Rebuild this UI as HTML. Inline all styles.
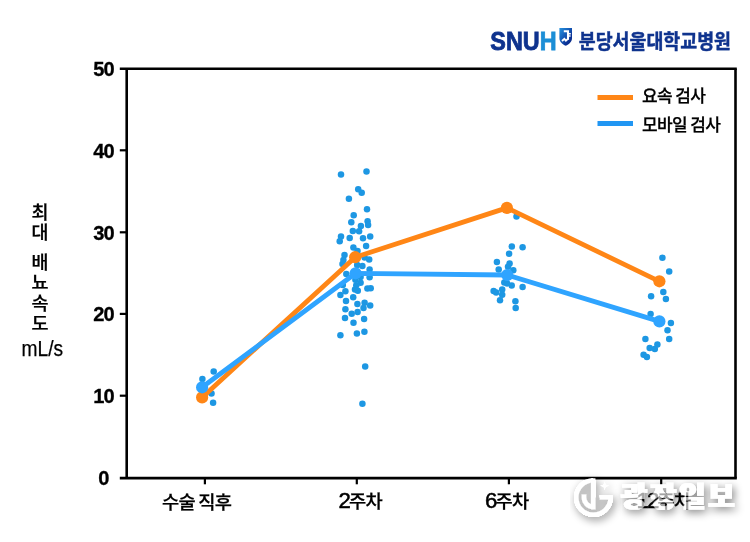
<!DOCTYPE html>
<html lang="ko">
<head>
<meta charset="utf-8">
<title>최대 배뇨속도 mL/s</title>
<style>
html,body{margin:0;padding:0;background:#fff;}
body{width:750px;height:542px;overflow:hidden;}
svg{display:block;}
</style>
</head>
<body>
<svg width="750" height="542" viewBox="0 0 750 542">
<defs>
<filter id="ws" x="-20%" y="-40%" width="140%" height="200%"><feGaussianBlur in="SourceAlpha" stdDeviation="4.2"/><feOffset dx="1.5" dy="2.5"/><feComponentTransfer result="sh"><feFuncA type="linear" slope="0.5"/></feComponentTransfer><feComponentTransfer in="SourceAlpha" result="solid"><feFuncA type="linear" slope="4"/></feComponentTransfer><feComposite in="sh" in2="solid" operator="out" result="sho"/><feMerge><feMergeNode in="sho"/><feMergeNode in="SourceGraphic"/></feMerge></filter>
<filter id="wt" x="-10%" y="-40%" width="120%" height="200%"><feMorphology in="SourceAlpha" operator="dilate" radius="1 0" result="fat"/><feGaussianBlur in="fat" stdDeviation="4"/><feOffset dx="2" dy="3"/><feComponentTransfer result="sh"><feFuncA type="linear" slope="0.52"/></feComponentTransfer><feComposite in="sh" in2="fat" operator="out" result="sho"/><feFlood flood-color="#fff" flood-opacity="0.64"/><feComposite in2="fat" operator="in" result="gl"/><feMerge><feMergeNode in="sho"/><feMergeNode in="gl"/></feMerge></filter>
<linearGradient id="sg" x1="0" y1="0" x2="1" y2="1"><stop offset="0" stop-color="#2693DE"/><stop offset="0.4" stop-color="#165EBA"/><stop offset="0.7" stop-color="#0B3296"/><stop offset="1" stop-color="#08247E"/></linearGradient>
</defs>
<rect width="750" height="542" fill="#fff"/>
<!-- scatter points -->
<g fill="#1D97E3">
<circle cx="213.7" cy="371.4" r="3.25"/>
<circle cx="202.4" cy="379.0" r="3.25"/>
<circle cx="211.5" cy="393.5" r="3.25"/>
<circle cx="213.1" cy="402.8" r="3.25"/>
<circle cx="341.0" cy="174.4" r="3.25"/>
<circle cx="366.5" cy="171.4" r="3.25"/>
<circle cx="358.2" cy="189.3" r="3.25"/>
<circle cx="361.7" cy="192.8" r="3.25"/>
<circle cx="348.9" cy="198.7" r="3.25"/>
<circle cx="367.0" cy="209.3" r="3.25"/>
<circle cx="353.7" cy="215.2" r="3.25"/>
<circle cx="351.3" cy="222.2" r="3.25"/>
<circle cx="367.6" cy="221.3" r="3.25"/>
<circle cx="368.1" cy="225.0" r="3.25"/>
<circle cx="360.9" cy="225.9" r="3.25"/>
<circle cx="352.8" cy="230.9" r="3.25"/>
<circle cx="359.1" cy="231.2" r="3.25"/>
<circle cx="341.0" cy="236.4" r="3.25"/>
<circle cx="349.7" cy="238.1" r="3.25"/>
<circle cx="363.0" cy="238.2" r="3.25"/>
<circle cx="370.2" cy="236.6" r="3.25"/>
<circle cx="339.7" cy="241.3" r="3.25"/>
<circle cx="353.4" cy="247.6" r="3.25"/>
<circle cx="366.1" cy="246.1" r="3.25"/>
<circle cx="357.5" cy="251.0" r="3.25"/>
<circle cx="344.5" cy="255.0" r="3.25"/>
<circle cx="343.4" cy="259.9" r="3.25"/>
<circle cx="364.6" cy="257.5" r="3.25"/>
<circle cx="369.2" cy="259.4" r="3.25"/>
<circle cx="342.5" cy="264.0" r="3.25"/>
<circle cx="357.2" cy="264.9" r="3.25"/>
<circle cx="362.4" cy="266.0" r="3.25"/>
<circle cx="369.6" cy="269.5" r="3.25"/>
<circle cx="346.3" cy="274.0" r="3.25"/>
<circle cx="369.6" cy="277.3" r="3.25"/>
<circle cx="360.6" cy="276.9" r="3.25"/>
<circle cx="355.4" cy="279.7" r="3.25"/>
<circle cx="360.6" cy="282.8" r="3.25"/>
<circle cx="342.8" cy="284.9" r="3.25"/>
<circle cx="356.3" cy="285.2" r="3.25"/>
<circle cx="367.4" cy="288.6" r="3.25"/>
<circle cx="370.7" cy="288.2" r="3.25"/>
<circle cx="355.0" cy="289.5" r="3.25"/>
<circle cx="357.8" cy="290.8" r="3.25"/>
<circle cx="345.4" cy="291.3" r="3.25"/>
<circle cx="340.4" cy="295.0" r="3.25"/>
<circle cx="353.2" cy="297.2" r="3.25"/>
<circle cx="346.0" cy="300.9" r="3.25"/>
<circle cx="357.4" cy="304.1" r="3.25"/>
<circle cx="364.6" cy="302.8" r="3.25"/>
<circle cx="370.2" cy="305.5" r="3.25"/>
<circle cx="363.5" cy="308.1" r="3.25"/>
<circle cx="345.4" cy="309.2" r="3.25"/>
<circle cx="357.6" cy="312.0" r="3.25"/>
<circle cx="351.7" cy="313.8" r="3.25"/>
<circle cx="345.0" cy="317.9" r="3.25"/>
<circle cx="364.1" cy="319.0" r="3.25"/>
<circle cx="353.5" cy="322.7" r="3.25"/>
<circle cx="364.4" cy="331.8" r="3.25"/>
<circle cx="356.9" cy="333.4" r="3.25"/>
<circle cx="340.4" cy="335.3" r="3.25"/>
<circle cx="365.2" cy="366.6" r="3.25"/>
<circle cx="362.4" cy="403.7" r="3.25"/>
<circle cx="516.5" cy="216.6" r="3.25"/>
<circle cx="511.8" cy="246.6" r="3.25"/>
<circle cx="522.6" cy="247.2" r="3.25"/>
<circle cx="509.1" cy="253.8" r="3.25"/>
<circle cx="496.9" cy="262.0" r="3.25"/>
<circle cx="509.6" cy="263.4" r="3.25"/>
<circle cx="508.0" cy="266.8" r="3.25"/>
<circle cx="498.7" cy="269.4" r="3.25"/>
<circle cx="513.3" cy="270.3" r="3.25"/>
<circle cx="504.3" cy="282.5" r="3.25"/>
<circle cx="507.2" cy="283.4" r="3.25"/>
<circle cx="511.7" cy="285.6" r="3.25"/>
<circle cx="522.6" cy="287.1" r="3.25"/>
<circle cx="502.2" cy="289.5" r="3.25"/>
<circle cx="493.6" cy="291.1" r="3.25"/>
<circle cx="496.2" cy="292.6" r="3.25"/>
<circle cx="502.2" cy="294.8" r="3.25"/>
<circle cx="500.0" cy="300.2" r="3.25"/>
<circle cx="515.4" cy="301.3" r="3.25"/>
<circle cx="515.7" cy="308.1" r="3.25"/>
<circle cx="662.4" cy="257.7" r="3.25"/>
<circle cx="669.2" cy="271.4" r="3.25"/>
<circle cx="663.3" cy="292.0" r="3.25"/>
<circle cx="651.1" cy="296.3" r="3.25"/>
<circle cx="665.9" cy="299.0" r="3.25"/>
<circle cx="650.6" cy="314.0" r="3.25"/>
<circle cx="670.9" cy="322.9" r="3.25"/>
<circle cx="667.5" cy="330.2" r="3.25"/>
<circle cx="669.2" cy="339.1" r="3.25"/>
<circle cx="645.4" cy="339.1" r="3.25"/>
<circle cx="657.4" cy="344.6" r="3.25"/>
<circle cx="649.7" cy="347.9" r="3.25"/>
<circle cx="654.8" cy="348.9" r="3.25"/>
<circle cx="643.6" cy="354.8" r="3.25"/>
<circle cx="646.9" cy="357.0" r="3.25"/>
</g>
<!-- mean lines -->
<polyline points="202.1,397.4 355.2,257.2 506.9,207.9 659.4,281.3" fill="none" stroke="#FF8616" stroke-width="4.8" stroke-linejoin="round" stroke-linecap="round"/>
<g fill="#FF8616"><circle cx="202.1" cy="397.4" r="6.1"/><circle cx="355.2" cy="257.2" r="6.1"/><circle cx="506.9" cy="207.9" r="6.1"/><circle cx="659.4" cy="281.3" r="6.1"/></g>
<polyline points="202.1,387.3 355.6,273.3 507.2,275.0 659.4,321.4" fill="none" stroke="#2FA4FF" stroke-width="4.8" stroke-linejoin="round" stroke-linecap="round"/>
<g fill="#2FA4FF"><circle cx="202.1" cy="387.3" r="6.1"/><circle cx="355.6" cy="273.3" r="6.1"/><circle cx="507.2" cy="275.0" r="6.1"/><circle cx="659.4" cy="321.4" r="6.1"/></g>
<!-- axes -->
<g stroke="#000" stroke-width="2.6" fill="none">
<path d="M126.7 68.7V478.15"/>
<path d="M119.8 68.7H736.8"/>
<path d="M735.5 68.7V478.15"/>
<path d="M119.8 478.15H736.8"/>
<path d="M119.8 150.3H126.7" stroke-width="2.2"/>
<path d="M119.8 232.3H126.7" stroke-width="2.2"/>
<path d="M119.8 313.9H126.7" stroke-width="2.2"/>
<path d="M119.8 395.7H126.7" stroke-width="2.2"/>
<path d="M204.9 478.15V484.3" stroke-width="2.2"/>
<path d="M356.8 478.15V484.3" stroke-width="2.2"/>
<path d="M508.9 478.15V484.3" stroke-width="2.2"/>
<path d="M661.2 478.15V484.3" stroke-width="2.2"/>
</g>
<!-- legend -->
<rect x="597.5" y="95" width="35.5" height="5" fill="#FF8616"/>
<rect x="597.5" y="121" width="35.5" height="5" fill="#2196F3"/>
<!-- labels -->
<g font-family="'Liberation Sans','Noto Sans CJK KR',sans-serif" fill="#000">
<g font-size="20.1" font-weight="bold" text-anchor="middle" stroke="#000" stroke-width="0.3" letter-spacing="-0.9">
<text x="103.5" y="76.3">50</text>
<text x="103.5" y="157.9">40</text>
<text x="103.5" y="239.5">30</text>
<text x="103.5" y="320.9">20</text>
<text x="103.5" y="402.9">10</text>
<text x="103.5" y="485.1">0</text>
</g>
<g font-size="18.7" font-weight="500" letter-spacing="-0.75" word-spacing="-1" stroke="#000" stroke-width="0.25">
<text x="162" y="508.8">수술 직후</text>
<text x="338.6" y="508.3"><tspan font-size="22.2" letter-spacing="-1.9" stroke-width="0.5">2</tspan>주차</text>
<text x="485" y="508.3"><tspan font-size="22.2" letter-spacing="-1.9" stroke-width="0.5">6</tspan>주차</text>
<text x="636.6" y="508.3"><tspan font-size="22.2" letter-spacing="-1.9" stroke-width="0.5">12</tspan>주차</text>
</g>
<g font-size="17" font-weight="500" letter-spacing="-0.65" word-spacing="-0.7" stroke="#000" stroke-width="0.25">
<text x="642" y="102">요속 검사</text>
<text x="642" y="130.5">모바일 검사</text>
</g>
<text font-size="18.5" font-weight="500" text-anchor="middle" stroke="#000" stroke-width="0.25"><tspan x="40" y="219">최</tspan><tspan x="42.6" y="238.8">대 </tspan><tspan x="40" y="269.3">배</tspan><tspan x="40" y="288.9">뇨</tspan><tspan x="40" y="309.8">속</tspan><tspan x="42.6" y="330.4">도 </tspan><tspan x="42.3" y="356.1" font-size="21.5" textLength="41.6" lengthAdjust="spacingAndGlyphs">mL/s</tspan></text>
</g>
<!-- hospital logo -->
<g font-family="'Liberation Sans','Noto Sans CJK KR',sans-serif" font-weight="bold">
<text x="490.3" y="49.8" font-size="25" textLength="66.2" lengthAdjust="spacingAndGlyphs" stroke-width="0.8"><tspan fill="#0F338E" stroke="#0F338E">SNU</tspan><tspan fill="#1C8ED6" stroke="#1C8ED6">H</tspan></text>
<text x="578.8" y="48.6" font-size="20" fill="#0F338E" stroke="#0F338E" stroke-width="0.45" textLength="152.2" lengthAdjust="spacingAndGlyphs">분당서울대학교병원</text>
</g>
<path d="M559.4 28.1H572V38C572 42 569 44.3 565.7 45.8C562.4 44.3 559.4 42 559.4 38Z" fill="url(#sg)"/>
<g stroke="#fff" fill="none"><path d="M563.8 31.2H568V39.8" stroke-width="2.1"/><path d="M568 33.7H570.8M568 36H570.6" stroke-width="1.5"/><path d="M562 41L564.4 38.9L565.9 40.6L568.2 38.6" stroke-width="1.9"/></g>
<!-- watermark -->
<g filter="url(#ws)">
<path d="M593.2 497.5V481.5A16 16 0 1 0 609.4 497.5Z" fill="#000" fill-opacity="0.17"/>
<g fill="none" stroke="#fff" stroke-width="4.5">
<path d="M593.2 480.3A17.2 17.2 0 1 0 610.6 498.2"/>
<path d="M593.2 478.3V509.3"/>
<path d="M599.8 497.3H612.8"/>
<path d="M584 494.4V497.5A9.4 9.4 0 0 0 593.2 506.9"/>
</g>
<path d="M604.6 481.7L605.5 484.8L608.6 485.7L605.5 486.6L604.6 489.7L603.7 486.6L600.6 485.7L603.7 484.8Z" fill="#fff"/>
</g>
<text x="621" y="506.6" font-family="'Liberation Sans','Noto Sans CJK KR',sans-serif" font-weight="900" font-size="28.2" fill="#fff" filter="url(#wt)" textLength="113.5" lengthAdjust="spacing">광장일보</text>
</svg>
</body>
</html>
